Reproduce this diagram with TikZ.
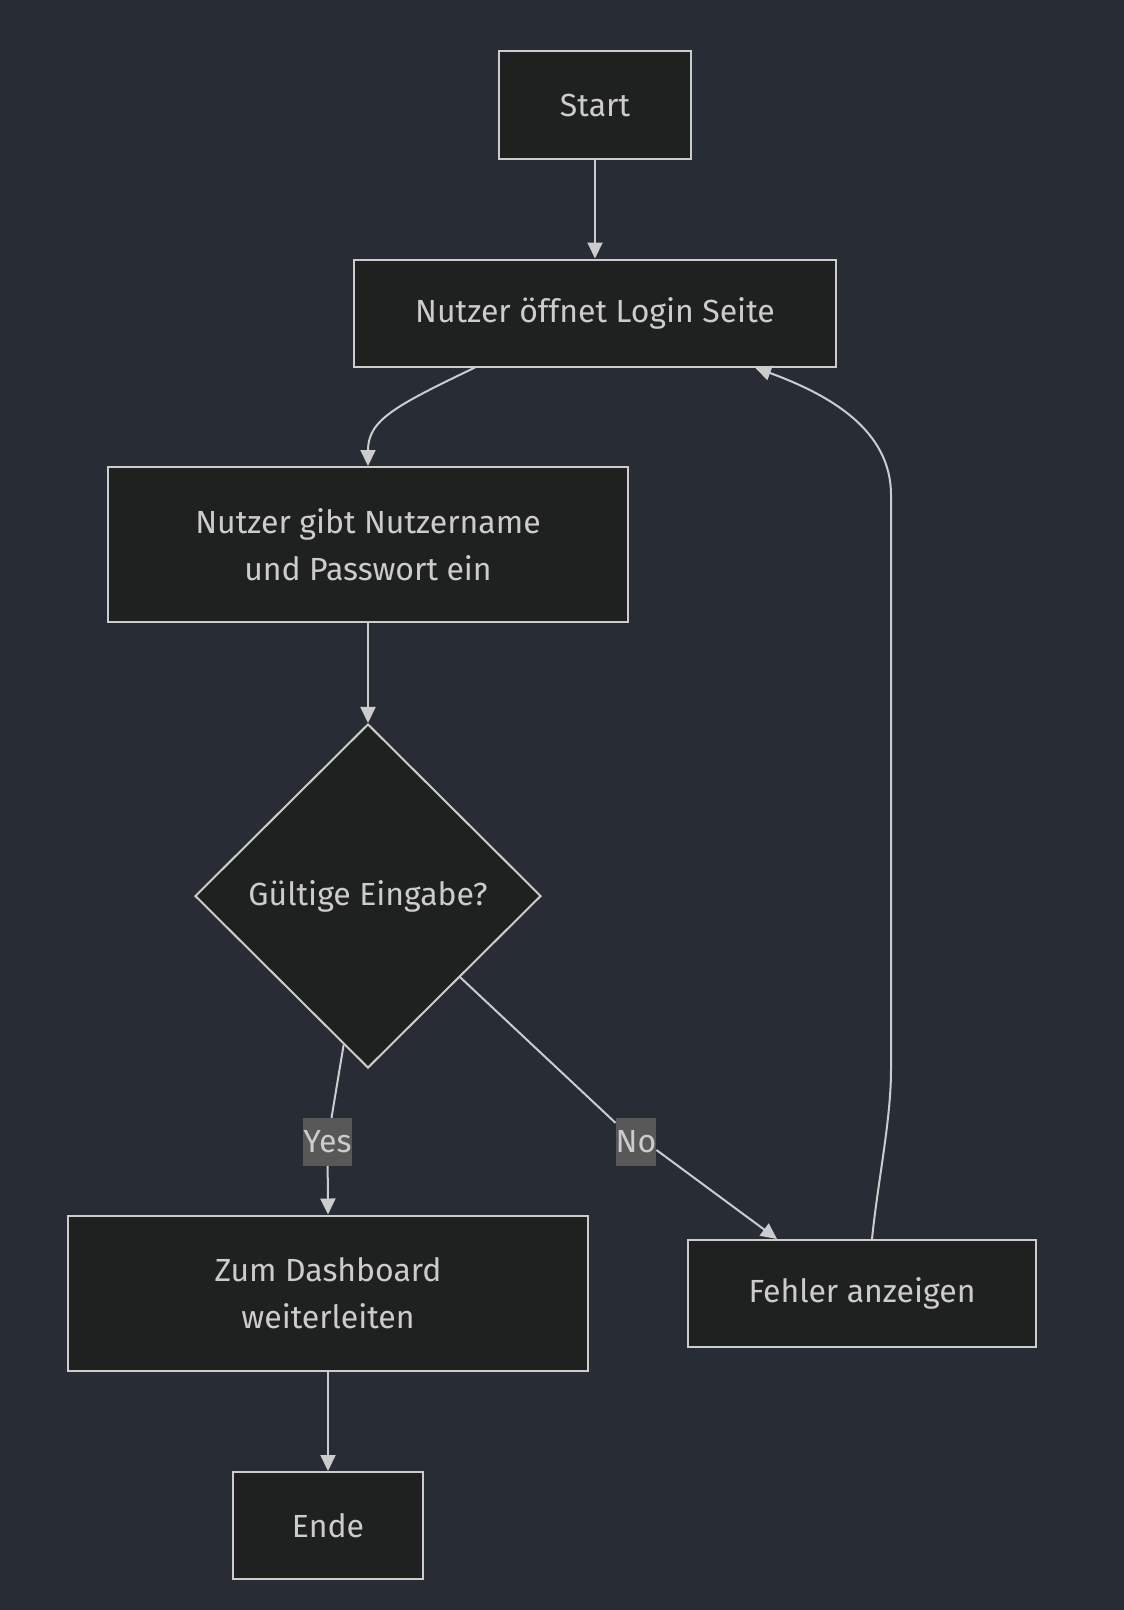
\documentclass[tikz,border=0pt]{standalone}
\usepackage{fontspec}
\setmainfont{Fira Sans}
\usetikzlibrary{shapes.geometric,arrows.meta,calc}
\definecolor{cBg}{HTML}{282C34}
\definecolor{cFill}{HTML}{1F2020}
\definecolor{cLine}{HTML}{CCCCCC}
\definecolor{cText}{HTML}{CCCCCC}
\definecolor{cLab}{HTML}{585858}
\begin{document}
\begin{tikzpicture}[x=1pt,y=-1pt,
  every node/.style={font=\fontsize{32}{47}\selectfont, text=cText},
  box/.style={draw=cLine, fill=cFill, line width=2pt, inner sep=0pt, align=center},
  dec/.style={draw=cLine, fill=cFill, line width=2pt, shape=diamond, inner sep=0pt, aspect=1},
  elabel/.style={fill=cLab, inner sep=0pt, minimum height=48pt},
  arr/.style={draw=cLine, line width=2pt, -{Triangle[length=16pt,width=15pt]}},
  plain/.style={draw=cLine, line width=2pt}]
\fill[cBg] (0,0) rectangle (1124,1610);
\useasboundingbox (0,0) rectangle (1124,1610);

\node[box, minimum width=192pt, minimum height=108pt] (start) at (595,105) {Start};
\node[box, minimum width=482pt, minimum height=107pt] (login) at (595,313) {Nutzer öffnet Login Seite};
\node[box, minimum width=520pt, minimum height=155pt] (input) at (368,544.5) {Nutzer gibt Nutzername\\und Passwort ein};
\node[dec, minimum width=346pt, minimum height=344pt] (dia) at (368,896) {Gültige Eingabe?};
\node[box, minimum width=520pt, minimum height=155pt] (dash) at (328,1293) {Zum Dashboard\\weiterleiten};
\node[box, minimum width=348pt, minimum height=107pt] (err) at (862,1293.5) {Fehler anzeigen};
\node[box, minimum width=190pt, minimum height=107pt] (ende) at (328,1525.5) {Ende};

\coordinate (ls) at ([xshift=-120pt]login.south);
\coordinate (ys) at ($(dia.south)!0.14!(dia.west)$);
\coordinate (ns) at ($(dia.south)!0.53!(dia.east)$);
\coordinate (et) at ([xshift=-85pt]err.north);
\coordinate (es) at ([xshift=10pt]err.north);
\coordinate (lt) at ([xshift=160pt]login.south);
\coordinate (r1) at (891,1070);
\coordinate (r2) at (891,495);

\draw[arr] (start) -- (login);
\draw[arr] (ls) .. controls (395,406) and (368,420) .. (input.north);
\draw[arr] (input) -- (dia);
\draw[arr] (ende.north |- dash.south) -- (ende.north);
\draw[arr] (es) .. controls (878,1180) and (891,1120) .. (r1) -- (r2) .. controls (891,430) and (830,395) .. (lt);

\node[elabel, minimum width=45pt] (yes) at (327.5,1142) {Yes};
\node[elabel, minimum width=38pt] (no) at (636,1142) {No};

\draw[plain] (ys) -- (yes);
\draw[arr] (yes) -- (dash.north);
\draw[plain] (ns) -- (no);
\draw[arr] (no.east |- 0,1150) -- (et);
\end{tikzpicture}
\end{document}
